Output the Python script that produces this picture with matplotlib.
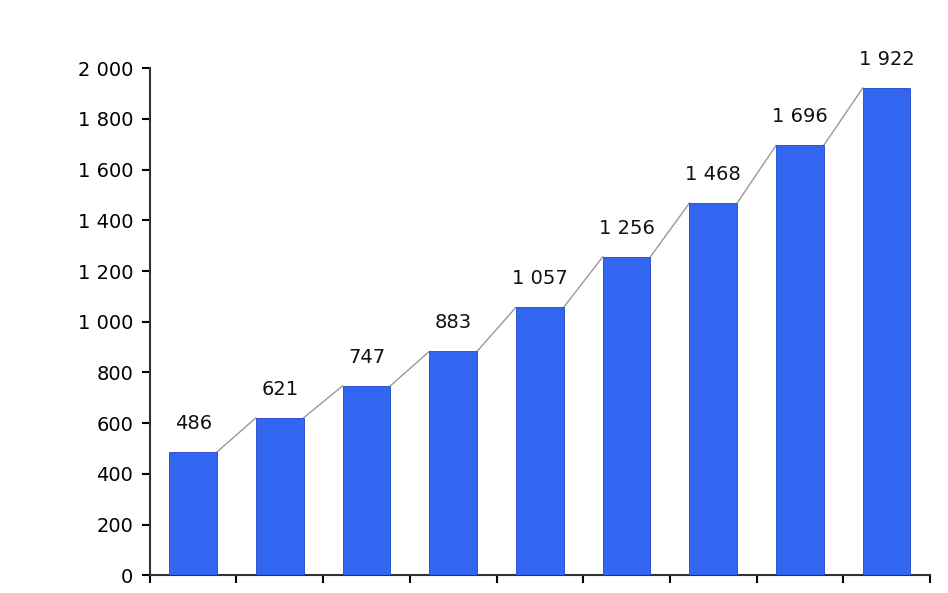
import matplotlib
matplotlib.use("Agg")
import matplotlib.pyplot as plt
import numpy as np

values = [486, 621, 747, 883, 1057, 1256, 1468, 1696, 1922]
yticks = [0, 200, 400, 600, 800, 1000, 1200, 1400, 1600, 1800, 2000]


def fmt(v):
    return "{:,}".format(v).replace(",", " ")


fig = plt.figure(figsize=(9.48, 5.93), dpi=100)
ax = fig.add_axes([0.158, 0.030, 0.823, 0.855])
x = np.arange(len(values))
w = 0.55
ax.bar(x, values, width=w, color="#3366f0", edgecolor="#2244cc", linewidth=0.6, zorder=3)

# connector lines between bar tops
for i in range(len(values) - 1):
    ax.plot([x[i] + w / 2, x[i + 1] - w / 2], [values[i], values[i + 1]],
            color="#999999", lw=1, zorder=2)

for xi, v in zip(x, values):
    ax.text(xi, v + 75, fmt(v), ha="center", va="bottom", fontsize=14,
            clip_on=False, color="#111111")

ax.set_xlim(-0.5, len(values) - 0.5)
ax.set_ylim(0, 2000)
ax.set_yticks(yticks)
ax.set_yticklabels([fmt(t) for t in yticks], fontsize=14)
ax.set_xticks(np.arange(len(values) + 1) - 0.5)
ax.set_xticklabels([])
ax.tick_params(axis="x", direction="out", length=6, width=1.5)
ax.tick_params(axis="y", direction="out", length=6, width=1.5, pad=6)
for s in ["top", "right"]:
    ax.spines[s].set_visible(False)
for s in ["left", "bottom"]:
    ax.spines[s].set_linewidth(1.5)
    ax.spines[s].set_color("#333333")

fig.savefig("out.png", dpi=100)
